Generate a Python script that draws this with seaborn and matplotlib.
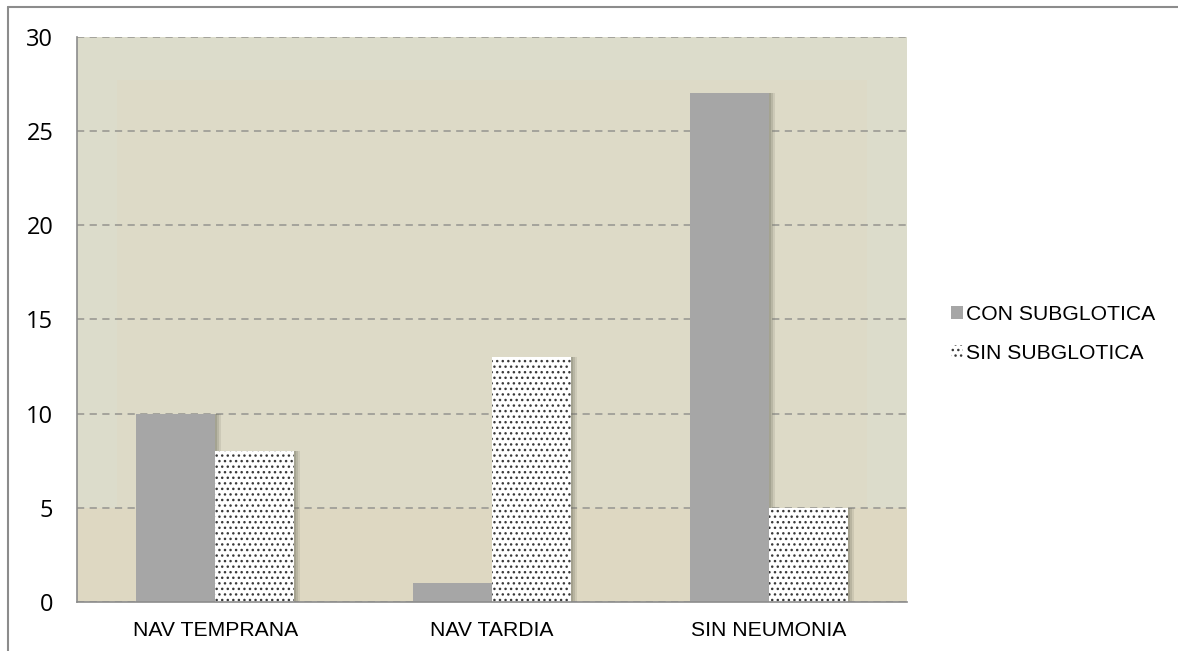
import matplotlib
matplotlib.use('Agg')
import pandas as pd
import matplotlib.pyplot as plt
import seaborn as sns
from matplotlib.lines import Line2D
from matplotlib.patches import Patch, Rectangle
from matplotlib.transforms import offset_copy

categories = ['NAV TEMPRANA', 'NAV TARDIA', 'SIN NEUMONIA']
series = ['CON SUBGLOTICA', 'SIN SUBGLOTICA']
con_subglotica = [10, 1, 27]
sin_subglotica = [8, 13, 5]
y_ticks = [0, 5, 10, 15, 20, 25, 30]

df = pd.DataFrame({
    'categoria': categories * 2,
    'grupo': [series[0]] * 3 + [series[1]] * 3,
    'valor': con_subglotica + sin_subglotica,
})

sns.set_style('white')
plt.rcParams['font.family'] = ['Liberation Sans', 'DejaVu Sans']
plt.rcParams['hatch.linewidth'] = 1.0
plt.rcParams['text.color'] = 'black'
plt.rcParams['xtick.labelcolor'] = 'black'
plt.rcParams['ytick.labelcolor'] = 'black'

fig = plt.figure(figsize=(11.78, 6.51), dpi=100)
ax = fig.add_axes([77 / 1178, 1 - 602 / 651, 830 / 1178, 565 / 651])
ax.set_facecolor('#dcdccb')

sns.barplot(data=df, x='categoria', y='valor', hue='grupo',
            palette=['#a6a6a6', '#ffffff'], width=0.57, saturation=1,
            ax=ax, legend=False, zorder=3)

# soft background shading like the original
ax.axhspan(0, 27.7, xmin=0.048, xmax=0.952, color='#dddac7', zorder=0, lw=0)
ax.axhspan(0, 5, color='#ded8c2', zorder=0, lw=0)

for j, cont in enumerate(ax.containers):
    for bar in cont:
        bar.set_linewidth(0)
        if j == 1:
            bar.set_hatch('...')
            bar.set_edgecolor('#3a3a3a')
        else:
            bar.set_edgecolor('#a6a6a6')
        # soft shadow to the right of each bar
        for k, a in [(6, 0.15), (4, 0.2), (2, 0.25)]:
            sh = Rectangle(bar.get_xy(), bar.get_width(), bar.get_height(),
                           transform=offset_copy(ax.transData, fig=fig, x=k, y=0, units='dots'),
                           facecolor='#6b6b5c', alpha=a, lw=0, zorder=2)
            ax.add_patch(sh)

ax.set_ylim(0, 30)
ax.set_xlim(-0.5, 2.5)
ax.set_yticks(y_ticks)
ax.set_yticklabels([str(t) for t in y_ticks], fontsize=17, family=['Open Sans'])
ax.set_xticks(range(len(categories)))
ax.set_xticklabels(categories, fontsize=15.2)
ax.set_xticks([-0.5, 0.5, 1.5, 2.5], minor=True)
ax.tick_params(axis='x', which='major', length=0, pad=14)
ax.tick_params(axis='x', which='minor', length=5, color='#8c8c8c', direction='out')
ax.tick_params(axis='y', length=5, color='#8c8c8c', direction='out', pad=12)
ax.yaxis.grid(True, linestyle=(0, (4, 3)), color='#a09f98', linewidth=1.3, zorder=1)
ax.set_axisbelow(True)
ax.set_xlabel('')
ax.set_ylabel('')
for s in ['top', 'right']:
    ax.spines[s].set_visible(False)
for s in ['left', 'bottom']:
    ax.spines[s].set_color('#8c8c8c')
    ax.spines[s].set_linewidth(1.2)
    ax.spines[s].set_zorder(4)

handles = [Patch(facecolor='#a6a6a6', edgecolor='#a6a6a6', linewidth=0),
           Patch(facecolor='white', edgecolor='#3a3a3a', hatch='...', linewidth=0)]
fig.legend(handles, series, loc='center left', bbox_to_anchor=(932 / 1178, 1 - 334 / 651),
           frameon=False, fontsize=15.2, handlelength=0.55, handleheight=0.55,
           handletextpad=0.15, labelspacing=0.95, labelcolor='black')

# chart border
fig.add_artist(Line2D([8 / 1178, 1], [1 - 7 / 651, 1 - 7 / 651], color='#8c8c8c', linewidth=1.5))
fig.add_artist(Line2D([8 / 1178, 8 / 1178], [0, 1 - 7 / 651], color='#8c8c8c', linewidth=1.5))

fig.savefig('out.png', dpi=100)
